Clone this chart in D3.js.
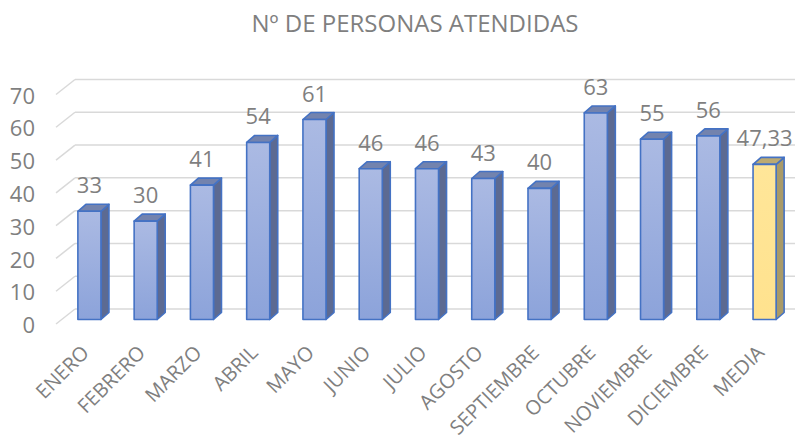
<!DOCTYPE html>
<html>
<head>
<meta charset="utf-8">
<script src="https://cdn.jsdelivr.net/npm/d3@7"></script>
<style>
  body { margin: 0; background: #fff; }
  svg { display: block; font-family: "Open Sans", sans-serif; }
</style>
</head>
<body>
<svg id="chart" width="797" height="441"></svg>
<script>
const width = 797;
const height = 441;

// data
const categories = ['ENERO', 'FEBRERO', 'MARZO', 'ABRIL', 'MAYO', 'JUNIO', 'JULIO',
  'AGOSTO', 'SEPTIEMBRE', 'OCTUBRE', 'NOVIEMBRE', 'DICIEMBRE', 'MEDIA'];
const values = [33, 30, 41, 54, 61, 46, 46, 43, 40, 63, 55, 56, 47.33];
const yTicks = [0, 10, 20, 30, 40, 50, 60, 70];
const title = 'Nº DE PERSONAS ATENDIDAS';

const textColor = '#7f7f7f';
const gridColor = '#d9d9d9';
const depthX = 8, depthY = -7;     // bar depth offset
const wallY = -10.5;               // back wall offset relative to bar front
const floorX = -19, floorY = 15;   // diagonal floor segment

const esLocale = d3.formatLocale({decimal: ',', thousands: '.', grouping: [3], currency: ['', '€']});
const fmt = v => Number.isInteger(v) ? String(v) : esLocale.format('.2f')(v);

const x = d3.scaleBand()
  .domain(categories)
  .range([61, 793])
  .paddingInner(0.59)
  .paddingOuter(0.3);

const y = d3.scaleLinear()
  .domain([0, 70])
  .range([319.5, 90]);

const svg = d3.select('#chart');

// gradients
const defs = svg.append('defs');
function grad(id, c1, c2) {
  const g = defs.append('linearGradient').attr('id', id)
    .attr('x1', 0).attr('y1', 0).attr('x2', 0).attr('y2', 1);
  g.append('stop').attr('offset', '0%').attr('stop-color', c1);
  g.append('stop').attr('offset', '100%').attr('stop-color', c2);
}
grad('gBlue', '#abbae3', '#8ca3da');
grad('gGold', '#ffe699', '#ffe28e');

// title
svg.append('text')
  .attr('x', 415)
  .attr('y', 32)
  .attr('text-anchor', 'middle')
  .attr('fill', textColor)
  .style('font-size', '24px')
  .text(title);

// grid
const wallLeft = 75;
const grid = svg.append('g');
yTicks.forEach(t => {
  const yb = y(t) + wallY;
  grid.append('line')
    .attr('x1', wallLeft).attr('x2', 795)
    .attr('y1', yb).attr('y2', yb)
    .attr('stroke', gridColor).attr('stroke-width', 1.5);
  grid.append('line')
    .attr('x1', wallLeft).attr('x2', wallLeft + floorX)
    .attr('y1', yb).attr('y2', yb + floorY)
    .attr('stroke', gridColor).attr('stroke-width', 1.5);
  grid.append('text')
    .attr('x', 35)
    .attr('y', yb + floorY + 1.5)
    .attr('dy', '0.35em')
    .attr('text-anchor', 'end')
    .attr('fill', textColor)
    .style('font-size', '22px')
    .text(t);
});

// bars
const bw = x.bandwidth();
const bars = svg.append('g');
categories.forEach((c, i) => {
  const v = values[i];
  const isMedia = c === 'MEDIA';
  const x0 = x(c), x1 = x0 + bw;
  const yt = y(v), yb = y(0);
  const g = bars.append('g')
    .attr('stroke', '#4472c4')
    .attr('stroke-width', 1.6)
    .attr('stroke-linejoin', 'round');
  // side
  g.append('path')
    .attr('d', `M${x1},${yt} L${x1 + depthX},${yt + depthY} L${x1 + depthX},${yb + depthY} L${x1},${yb} Z`)
    .attr('fill', isMedia ? '#a99a68' : '#5c6a92');
  // top
  g.append('path')
    .attr('d', `M${x0},${yt} L${x0 + depthX},${yt + depthY} L${x1 + depthX},${yt + depthY} L${x1},${yt} Z`)
    .attr('fill', isMedia ? '#bcaa72' : '#7383ae');
  // front
  g.append('rect')
    .attr('x', x0).attr('y', yt)
    .attr('width', bw).attr('height', yb - yt)
    .attr('fill', isMedia ? 'url(#gGold)' : 'url(#gBlue)');

  // value label
  svg.append('text')
    .attr('x', x0 + bw / 2)
    .attr('y', yt - 18)
    .attr('text-anchor', 'middle')
    .attr('fill', textColor)
    .style('font-size', '22px')
    .text(fmt(v));

  // category label
  svg.append('text')
    .attr('transform', `translate(${x0 + bw / 2 - 4},349) rotate(-45)`)
    .attr('dy', '0.35em')
    .attr('text-anchor', 'end')
    .attr('fill', textColor)
    .style('font-size', '20px')
    .text(c);
});
</script>
</body>
</html>
